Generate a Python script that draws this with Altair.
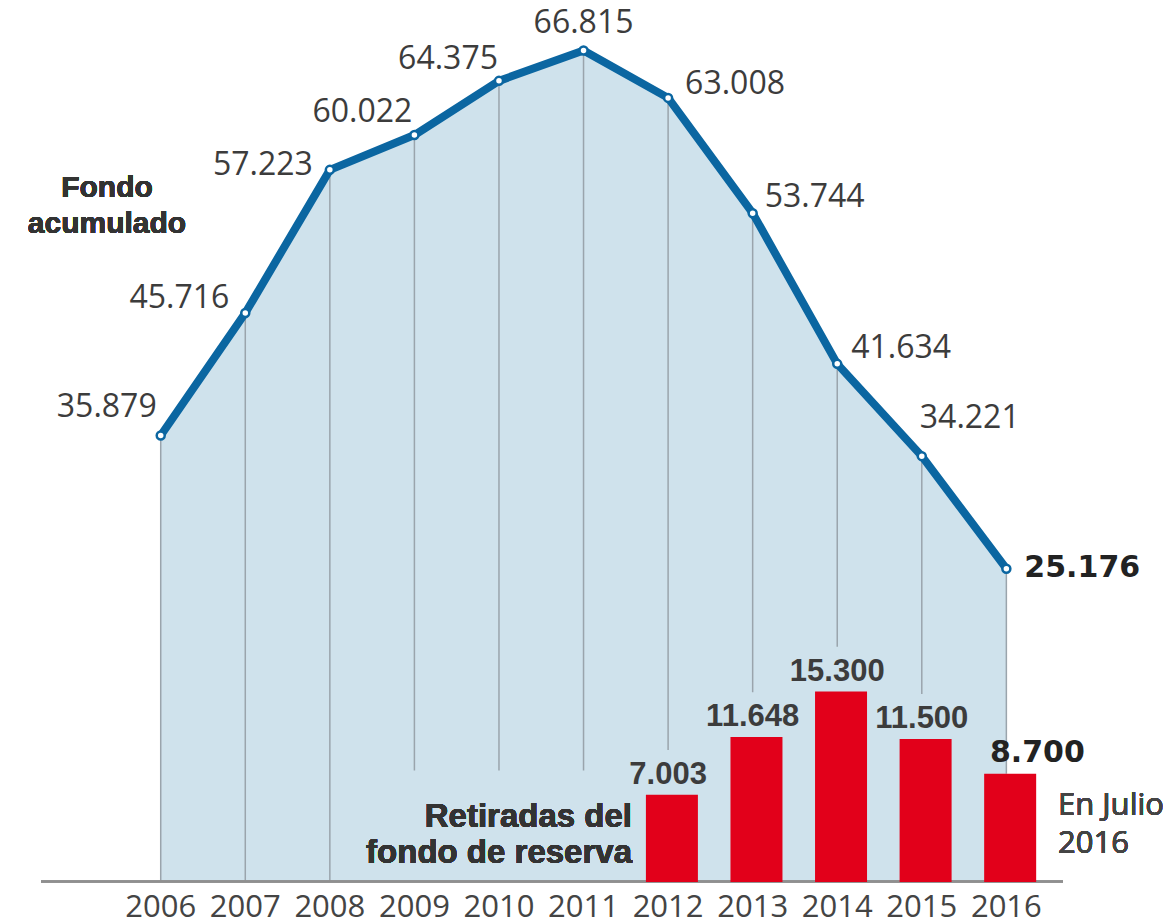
import altair as alt
import pandas as pd

# ---- data ----
years = [2006, 2007, 2008, 2009, 2010, 2011, 2012, 2013, 2014, 2015, 2016]
fondo = [35.879, 45.716, 57.223, 60.022, 64.375, 66.815, 63.008, 53.744, 41.634, 34.221, 25.176]
bar_years = [2012, 2013, 2014, 2015, 2016]
retiradas = [7.003, 11.648, 15.300, 11.500, 8.700]

# ---- styling ----
LINE = "#0b66a1"
AREA = "#cfe2ec"
RULE = "#9aa4ac"
RED = "#e2001a"
TXT = "#3c3c3c"
DARK = "#222222"

# label placement (align, dx, dy) relative to each point
placement = {
    2006: ("right", -4, -18),
    2007: ("right", -16, -5),
    2008: ("right", -17, 5),
    2009: ("right", -2, -13),
    2010: ("right", -1, -12),
    2011: ("center", 0, -17),
    2012: ("left", 17, -4),
    2013: ("left", 12, -6),
    2014: ("left", 14, -6),
    2015: ("left", -2, -28),
}

bar_map = dict(zip(bar_years, retiradas))
TEXT_BLOCK_TOP = 8.96   # top of the "Retiradas del fondo de reserva" block (data units)
LABEL_GAP = 3.6         # room above a bar for its label (data units)


def rule_end(y):
    if y in bar_map:
        return bar_map[y] if y == bar_years[-1] else bar_map[y] + LABEL_GAP
    if 2009 <= y <= 2011:
        return TEXT_BLOCK_TOP
    return 0.0


line_df = pd.DataFrame({
    "year": years,
    "value": fondo,
    "label": [f"{v:.3f}" for v in fondo],
    "year_label": [str(y) for y in years],
})
line_df["rule_end"] = [rule_end(y) for y in years]

bar_df = pd.DataFrame({
    "year": bar_years,
    "value": retiradas,
    "label": [f"{v:.3f}" for v in retiradas],
})

xs = alt.Scale(domain=[2004.2532, 2017.8405], nice=False, zero=False)
ys = alt.Scale(domain=[0, 70.23], nice=False)
X = alt.X("year:Q", scale=xs, axis=None)
Y = alt.Y("value:Q", scale=ys, axis=None)

base = alt.Chart(line_df)

area = base.mark_area(color=AREA, opacity=1).encode(x=X, y=Y)
rules = base.mark_rule(color=RULE, strokeWidth=1.5).encode(
    x=X, y=Y, y2=alt.Y2("rule_end:Q"))
baseline = alt.Chart(line_df).mark_rule(color="#8f8f8f", strokeWidth=1.5).encode(
    x=alt.value(33), x2=alt.value(1055), y=alt.value(873.5))

bars = alt.Chart(bar_df).transform_calculate(xb="datum.year + 0.045").mark_bar(
    size=52, color=RED).encode(
    x=alt.X("xb:Q", scale=xs, axis=None), y=Y)

line = base.mark_line(color=LINE, strokeWidth=8, strokeJoin="round").encode(x=X, y=Y)
points = base.mark_point(shape="circle", filled=True, fill="white", stroke=LINE,
                         strokeWidth=2.5, size=64, opacity=1).encode(x=X, y=Y)

label_layers = []
for yr, (al, dx, dy) in placement.items():
    label_layers.append(
        base.transform_filter(alt.datum.year == yr).mark_text(
            align=al, baseline="alphabetic", dx=dx, dy=dy,
            font="Open Sans", fontSize=32, color=TXT).encode(x=X, y=Y, text="label:N"))

last_label = base.transform_filter(alt.datum.year == 2016).mark_text(
    align="left", baseline="alphabetic", dx=18, dy=8,
    font="DejaVu Sans", fontWeight="bold", fontSize=30, color=DARK).encode(
    x=X, y=Y, text="label:N")

bar_labels = alt.Chart(bar_df).transform_filter(alt.datum.year < 2016).mark_text(
    align="center", baseline="alphabetic", dy=-11,
    font="Liberation Sans", fontWeight="bold", fontSize=31, color=TXT).encode(
    x=X, y=Y, text="label:N")

bar_last = alt.Chart(bar_df).transform_filter(alt.datum.year == 2016).mark_text(
    align="center", baseline="alphabetic", dx=31, dy=-12,
    font="DejaVu Sans", fontWeight="bold", fontSize=30, color=DARK).encode(
    x=X, y=Y, text="label:N")

year_labels = base.mark_text(
    align="center", baseline="alphabetic", font="Open Sans", fontSize=31,
    color="#444444").encode(x=X, y=alt.value(909), text="year_label:N")

fondo_title = alt.Chart(line_df).mark_text(
    align="center", baseline="alphabetic", lineBreak="\n", lineHeight=36,
    font="Liberation Sans", fontWeight="bold", fontSize=30, color="#333333").encode(
    x=alt.value(99), y=alt.value(189), text=alt.value("Fondo\nacumulado"))

ret_title = alt.Chart(line_df).mark_text(
    align="right", baseline="alphabetic", lineBreak="\n", lineHeight=36,
    font="Liberation Sans", fontWeight="bold", fontSize=33, color="#333333").encode(
    x=alt.value(624), y=alt.value(819), text=alt.value("Retiradas del\nfondo de reserva"))

julio = alt.Chart(line_df).mark_text(
    align="left", baseline="alphabetic", lineBreak="\n", lineHeight=38,
    font="Open Sans", fontSize=31, color="#444444").encode(
    x=alt.value(1050), y=alt.value(807), text=alt.value("En Julio\n2016"))

chart = alt.layer(
    area, rules, baseline, bars, line, points,
    *label_layers, last_label, bar_labels, bar_last, year_labels,
    fondo_title, ret_title, julio,
).properties(
    width=1159, height=874,
    padding={"left": 0, "top": 0, "right": 0, "bottom": 49},
    autosize=alt.AutoSizeParams(type="none"),
).configure_view(stroke=None)

chart.save("out.html", embed_options={"renderer": "svg", "actions": False})
